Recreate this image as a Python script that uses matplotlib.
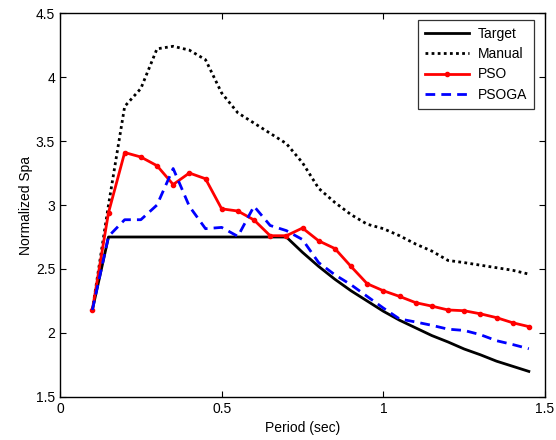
import matplotlib
matplotlib.use("Agg")
import matplotlib.pyplot as plt

plt.rcParams['font.family'] = ['Liberation Sans', 'DejaVu Sans']

period = [0.10, 0.15, 0.20, 0.25, 0.30, 0.35, 0.40, 0.45, 0.50, 0.55, 0.60,
          0.65, 0.70, 0.75, 0.80, 0.85, 0.90, 0.95, 1.00, 1.05, 1.10, 1.15,
          1.20, 1.25, 1.30, 1.35, 1.40, 1.45]

target = [2.18, 2.75, 2.75, 2.75, 2.75, 2.75, 2.75, 2.75, 2.75, 2.75, 2.75,
          2.75, 2.75, 2.63, 2.52, 2.42, 2.33, 2.25, 2.17, 2.10, 2.04, 1.98,
          1.93, 1.875, 1.83, 1.78, 1.74, 1.70]

manual = [2.18, 3.00, 3.77, 3.91, 4.22, 4.24, 4.21, 4.135, 3.875, 3.72, 3.64,
          3.56, 3.48, 3.33, 3.13, 3.02, 2.925, 2.85, 2.815, 2.76, 2.695, 2.64,
          2.567, 2.55, 2.53, 2.51, 2.49, 2.46]

pso = [2.18, 2.94, 3.41, 3.375, 3.307, 3.16, 3.25, 3.205, 2.97, 2.953, 2.883,
       2.76, 2.76, 2.82, 2.72, 2.66, 2.52, 2.385, 2.33, 2.286, 2.237, 2.21,
       2.18, 2.174, 2.15, 2.12, 2.08, 2.05]

psoga = [2.18, 2.755, 2.885, 2.885, 3.00, 3.285, 2.99, 2.815, 2.825, 2.755, 2.99,
         2.84, 2.80, 2.73, 2.55, 2.455, 2.377, 2.286, 2.195, 2.11, 2.086, 2.06,
         2.03, 2.02, 1.987, 1.94, 1.91, 1.877]

xticks = [0, 0.5, 1, 1.5]
xticklabels = ['0', '0.5', '1', '1.5']
yticks = [1.5, 2, 2.5, 3, 3.5, 4, 4.5]
yticklabels = ['1.5', '2', '2.5', '3', '3.5', '4', '4.5']

fig = plt.figure(figsize=(5.56, 4.40), dpi=100)
ax = fig.add_axes([60/556, 1-397/440, 485/556, 384/440])

ax.plot(period, target, color='black', lw=2.0, label='Target')
ax.plot(period, manual, color='black', lw=2.0, ls=(0, (1, 1.2)), label='Manual')
ax.plot(period, pso, color='red', lw=2.0, marker='o', ms=3.0, label='PSO')
ax.plot(period, psoga, color='blue', lw=2.0, ls=(0, (3.5, 2.2)), label='PSOGA')

ax.set_xlim(0, 1.5)
ax.set_ylim(1.5, 4.5)
ax.set_xticks(xticks)
ax.set_xticklabels(xticklabels)
ax.set_yticks(yticks)
ax.set_yticklabels(yticklabels)
ax.tick_params(direction='in', length=4, width=0.8, labelsize=10,
               top=True, right=True, labeltop=False, labelright=False)
for s in ax.spines.values():
    s.set_linewidth(1.0)

ax.set_xlabel('Period (sec)', fontsize=10, labelpad=4)
ax.set_ylabel('Normalized Spa', fontsize=10, labelpad=2)

leg = ax.legend(loc='upper right', fontsize=10, frameon=True, fancybox=False,
                edgecolor='black', handlelength=3.2, borderpad=0.5,
                labelspacing=0.45, handletextpad=0.6, numpoints=1,
                borderaxespad=0.0,
                bbox_to_anchor=((534 - 60) / 485, 1 - (20 - 13) / 384))
leg.get_frame().set_linewidth(0.9)

fig.savefig('out.png', dpi=100)
